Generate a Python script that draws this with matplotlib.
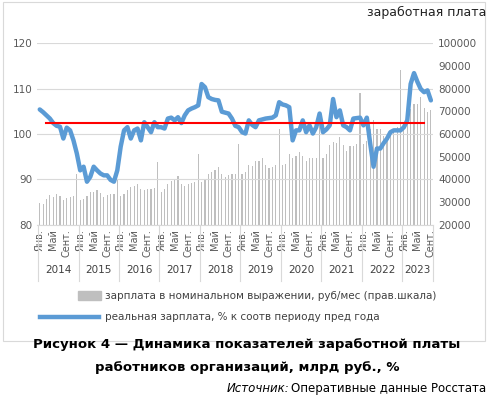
import matplotlib
matplotlib.use("Agg")
import matplotlib.pyplot as plt
import numpy as np
from matplotlib.patches import Rectangle
from matplotlib.lines import Line2D

years = ["2014","2015","2016","2017","2018","2019","2020","2021","2022","2023"]
month_labels = ["Янв.","Май","Сент."]
nominal = [29600,29200,31600,33000,32400,33800,32600,30800,31800,32200,32600,42400,
           31000,31400,32600,34400,34400,35400,34000,32400,33000,33400,33400,40000,
           32800,33800,35400,36600,37200,38200,36000,35400,35800,35800,36200,47800,
           34400,35600,38000,39200,40000,41400,38000,37000,38000,38400,38800,51400,
           38800,40400,42200,43200,44000,45600,42200,41200,41800,42200,42600,55800,
           42400,43200,46400,46000,48000,48200,49300,46500,45000,45500,46500,62300,
           46500,47000,51000,49500,50500,52000,50500,48000,49300,49500,49300,66000,
           49500,51000,55000,56500,56000,58500,55000,52500,54500,54500,55500,78000,
           55500,57000,62000,66000,62000,62000,59000,57500,59500,61000,63000,88000,
           63000,64500,71000,73000,73000,76500,71500,69500,70500]
real = [105.4,104.8,104.1,103.4,102.4,101.8,101.6,99.0,101.4,100.8,98.6,95.7,
        92.0,92.8,89.5,90.6,92.8,92.0,91.3,90.9,90.9,89.9,89.5,92.0,
        97.2,100.8,101.5,99.0,100.8,101.2,98.6,102.6,101.5,100.4,102.6,101.5,
        101.5,101.2,103.4,103.6,103.0,103.7,102.4,104.1,105.2,105.6,105.9,106.3,
        111.0,110.3,108.1,107.7,107.5,107.4,104.9,104.7,104.5,103.4,101.8,101.5,
        100.4,100.1,103.0,102.0,101.5,103.0,103.2,103.4,103.5,103.6,104.1,107.0,
        106.5,106.3,105.9,98.6,100.8,100.8,103.0,100.4,101.9,100.1,101.5,104.5,
        100.4,101.0,101.9,107.7,103.7,105.2,101.9,101.5,100.8,103.4,103.5,103.6,
        101.9,103.6,97.9,92.8,96.8,96.8,98.0,99.0,100.4,100.8,100.8,100.8,
        101.5,103.0,111.0,113.4,111.5,109.9,109.2,109.6,107.4]
red_level = 102.4
red_span = (2, 114)

n = len(real)
x = np.arange(n)
fig = plt.figure(figsize=(4.94, 4.03), dpi=100)
fig.patches.append(Rectangle((0.006, 0.155), 0.975, 0.84, transform=fig.transFigure,
                             fill=False, ec="#D9D9D9", lw=0.8))
ax = fig.add_axes([0.075, 0.442, 0.802, 0.451])
ax2 = ax.twinx()
ax.set_zorder(ax2.get_zorder() + 1)
ax.patch.set_visible(False)

ax2.bar(x, nominal, width=0.35, color="#BFBFBF")
ax2.set_ylim(20000, 100000)
ax2.set_yticks(range(20000, 100001, 10000))
ax.set_ylim(80, 120)
ax.set_yticks(range(80, 121, 10))
ax.set_xlim(-0.8, n - 0.3)
ax.grid(axis="y", color="#D9D9D9", lw=0.8)
ax.set_axisbelow(True)
ax.plot(x, real, color="#5B9BD5", lw=3.2, solid_capstyle="round", zorder=3)
ax.plot(list(red_span), [red_level, red_level], color="#FF0000", lw=1.5, zorder=4)

for a in (ax, ax2):
    for s in a.spines.values():
        s.set_visible(False)
    a.tick_params(length=0, labelsize=7.5, colors="#595959")
ax.spines["bottom"].set_visible(True)
ax.spines["bottom"].set_color("#D9D9D9")

ticks, labs = [], []
for yi in range(len(years)):
    for mi, lab in zip([0, 4, 8], month_labels):
        idx = yi * 12 + mi
        if idx < n:
            ticks.append(idx); labs.append(lab)
ax.set_xticks(ticks)
ax.set_xticklabels(labs, rotation=90, fontsize=7)
ax.tick_params(axis="x", pad=3)
trans = ax.get_xaxis_transform()
for yi, yr in enumerate(years):
    start = yi * 12 - 0.5
    end = min(yi * 12 + 11.5, n - 0.5)
    ax.text((start + end) / 2, -0.25, yr, transform=trans, ha="center", va="center",
            fontsize=7.5, color="#404040")
    ax.plot([start, start], [0, -0.31], transform=trans, color="#D9D9D9", lw=0.8, clip_on=False)
ax.plot([n - 0.5, n - 0.5], [0, -0.31], transform=trans, color="#D9D9D9", lw=0.8, clip_on=False)

fig.text(0.985, 0.97, "заработная плата", ha="right", va="center", fontsize=9, color="#222222")
fig.patches.append(Rectangle((0.158, 0.255), 0.046, 0.022, transform=fig.transFigure,
                             color="#BFBFBF"))
fig.text(0.212, 0.266, "зарплата в номинальном выражении, руб/мес (прав.шкала)",
         fontsize=7.5, va="center", color="#404040")
fig.lines.append(Line2D([0.08, 0.20], [0.213, 0.213], transform=fig.transFigure,
                        color="#5B9BD5", lw=3.2))
fig.text(0.212, 0.213, "реальная зарплата, % к соотв периоду пред года",
         fontsize=7.5, va="center", color="#404040")
fig.text(0.5, 0.145, "Рисунок 4 — Динамика показателей заработной платы",
         ha="center", va="center", fontsize=9.5, fontweight="bold")
fig.text(0.5, 0.088, "работников организаций, млрд руб., %",
         ha="center", va="center", fontsize=9.5, fontweight="bold")
fig.text(0.585, 0.035, "Источник:", ha="right", va="center", fontsize=8.5, style="italic")
fig.text(0.59, 0.035, "Оперативные данные Росстата", ha="left", va="center", fontsize=8.5)
fig.savefig("out.png", dpi=100)
